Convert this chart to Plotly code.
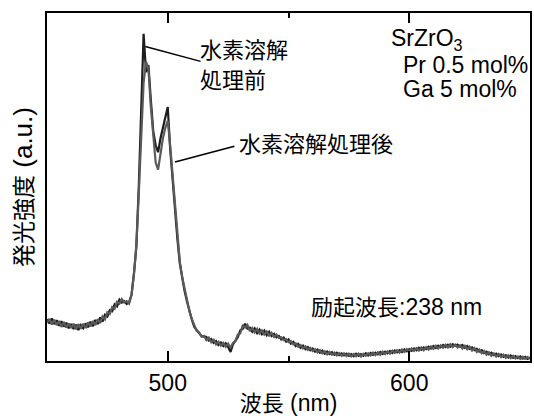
import plotly.graph_objects as go

# wavelength sampling (nm)
wavelength = list(range(450, 651))

# emission intensity (a.u.), before hydrogen-dissolution treatment
before_rise = [0.120, 0.108, 0.122, 0.106, 0.117, 0.101, 0.114, 0.099, 0.110, 0.094,
               0.106, 0.092, 0.104, 0.089, 0.103, 0.094, 0.108, 0.097, 0.113, 0.100,
               0.118, 0.106, 0.125, 0.113, 0.133, 0.128, 0.146, 0.143, 0.163, 0.157,
               0.176, 0.168, 0.172, 0.164, 0.169]
before_peak = [0.19, 0.25, 0.33, 0.50, 0.72, 0.94, 0.83, 0.85, 0.75, 0.66,
               0.62, 0.60, 0.64, 0.67, 0.70, 0.73, 0.61, 0.52, 0.43, 0.35,
               0.28, 0.235, 0.20, 0.17, 0.14, 0.118, 0.098, 0.088, 0.080, 0.072, 0.070]
before_tail = [0.069, 0.059, 0.063, 0.052, 0.057, 0.046, 0.053, 0.043, 0.051, 0.040,
               0.026, 0.048, 0.060, 0.068, 0.088, 0.092, 0.107, 0.093, 0.096, 0.084,
               0.094, 0.080, 0.090, 0.077, 0.087, 0.074, 0.084, 0.072, 0.078, 0.068,
               0.072, 0.062, 0.067, 0.056, 0.062, 0.050, 0.055, 0.043, 0.049, 0.038,
               0.044, 0.034, 0.040, 0.031, 0.036, 0.027, 0.033, 0.024, 0.030, 0.021,
               0.027, 0.020, 0.025, 0.018, 0.024, 0.017, 0.022, 0.016, 0.021, 0.015,
               0.020, 0.014, 0.021, 0.015, 0.020, 0.015, 0.022, 0.016, 0.023, 0.018,
               0.024, 0.019, 0.026, 0.020, 0.027, 0.022, 0.029, 0.023, 0.030, 0.025,
               0.031, 0.026, 0.033, 0.028, 0.034, 0.029, 0.036, 0.031, 0.038, 0.032,
               0.039, 0.034, 0.041, 0.036, 0.043, 0.037, 0.044, 0.039, 0.046, 0.040,
               0.047, 0.041, 0.048, 0.043, 0.047, 0.041, 0.046, 0.038, 0.043, 0.035,
               0.039, 0.031, 0.035, 0.027, 0.031, 0.023, 0.027, 0.019, 0.024, 0.017,
               0.021, 0.014, 0.019, 0.012, 0.017, 0.010, 0.016, 0.009, 0.014, 0.008,
               0.013, 0.007, 0.012, 0.006, 0.010]

# emission intensity (a.u.), after hydrogen-dissolution treatment
after_rise = [0.110, 0.121, 0.105, 0.119, 0.103, 0.115, 0.098, 0.112, 0.096, 0.108,
              0.095, 0.107, 0.091, 0.106, 0.093, 0.107, 0.095, 0.111, 0.099, 0.115,
              0.103, 0.120, 0.109, 0.128, 0.120, 0.140, 0.135, 0.155, 0.150, 0.170,
              0.165, 0.178, 0.168, 0.172, 0.165]
after_peak = [0.19, 0.25, 0.33, 0.48, 0.66, 0.80, 0.86, 0.84, 0.73, 0.64,
              0.57, 0.55, 0.60, 0.64, 0.67, 0.69, 0.62, 0.53, 0.44, 0.355,
              0.285, 0.24, 0.205, 0.172, 0.142, 0.120, 0.100, 0.086, 0.082, 0.070, 0.072]
after_tail = [0.060, 0.067, 0.054, 0.061, 0.048, 0.055, 0.044, 0.052, 0.041, 0.050,
              0.038, 0.052, 0.057, 0.076, 0.079, 0.101, 0.096, 0.104, 0.086, 0.095,
              0.082, 0.092, 0.079, 0.088, 0.076, 0.085, 0.073, 0.081, 0.069, 0.076,
              0.066, 0.068, 0.060, 0.063, 0.054, 0.057, 0.048, 0.051, 0.041, 0.046,
              0.036, 0.042, 0.032, 0.038, 0.029, 0.034, 0.025, 0.031, 0.022, 0.028,
              0.019, 0.026, 0.018, 0.024, 0.016, 0.023, 0.015, 0.022, 0.014, 0.021,
              0.013, 0.020, 0.014, 0.021, 0.013, 0.021, 0.015, 0.022, 0.016, 0.024,
              0.017, 0.025, 0.018, 0.027, 0.020, 0.028, 0.021, 0.030, 0.023, 0.031,
              0.024, 0.033, 0.026, 0.034, 0.027, 0.036, 0.029, 0.037, 0.030, 0.039,
              0.031, 0.040, 0.033, 0.042, 0.035, 0.044, 0.036, 0.045, 0.038, 0.047,
              0.039, 0.048, 0.040, 0.047, 0.039, 0.045, 0.036, 0.044, 0.034, 0.041,
              0.030, 0.037, 0.026, 0.033, 0.022, 0.029, 0.018, 0.025, 0.015, 0.022,
              0.013, 0.020, 0.011, 0.018, 0.009, 0.016, 0.008, 0.015, 0.007, 0.013,
              0.006, 0.012, 0.006, 0.011, 0.006]

before = before_rise + before_peak + before_tail
after = after_rise + after_peak + after_tail

x_range = [450, 650]
y_range = [0, 1]
x_major_ticks = [500, 600]
x_tick_labels = ["500", "600"]
x_minor_step = 50

FONT = "Liberation Sans, Arial, Noto Sans CJK JP, sans-serif"
LAT = 23   # latin text size
CJK = 22   # kanji size


def cjk(s, size=CJK):
    return f'<span style="font-size:{size}px">{s}</span>'


fig = go.Figure()
fig.add_trace(go.Scatter(x=wavelength, y=before, mode="lines",
                         line=dict(color="#1c1c1c", width=2.2), name="水素溶解処理前",
                         hoverinfo="skip"))
fig.add_trace(go.Scatter(x=wavelength, y=after, mode="lines",
                         line=dict(color="#5a5a5a", width=2.2), name="水素溶解処理後",
                         hoverinfo="skip"))

fig.update_layout(
    width=534, height=416,
    margin=dict(l=47, r=2, t=13, b=54),
    paper_bgcolor="white", plot_bgcolor="white",
    showlegend=False,
    font=dict(family=FONT, size=LAT, color="black"),
    xaxis=dict(
        range=x_range, tickmode="array", tickvals=x_major_ticks, ticktext=x_tick_labels,
        ticks="inside", ticklen=10, tickwidth=1.5, tickcolor="black",
        minor=dict(tick0=x_range[0], dtick=x_minor_step, ticks="inside", ticklen=5,
                   tickwidth=1.5, tickcolor="black", showgrid=False),
        showline=True, linecolor="black", linewidth=2, mirror="ticks",
        showgrid=False, zeroline=False,
        tickfont=dict(size=LAT),
        title=dict(text=cjk("波長") + " (nm)", font=dict(size=LAT), standoff=2),
    ),
    yaxis=dict(
        range=y_range, showticklabels=False, ticks="",
        showline=True, linecolor="black", linewidth=2, mirror=True,
        showgrid=False, zeroline=False,
        title=dict(text=cjk("発光強度", 23) + " (a.u.)", font=dict(size=26), standoff=5),
    ),
)

# pointer lines
fig.add_shape(type="line", x0=490.7, y0=0.904, x1=513.6, y1=0.861,
              line=dict(color="black", width=1.5))
fig.add_shape(type="line", x0=503.0, y0=0.572, x1=527.6, y1=0.617,
              line=dict(color="black", width=1.5))

ann = dict(showarrow=False, xanchor="left", yanchor="middle", align="left",
           font=dict(size=LAT, color="black"))
fig.add_annotation(x=512.6, y=0.849, text=cjk("水素溶解<br>処理前"), **ann)
fig.add_annotation(x=528.6, y=0.622, text=cjk("水素溶解処理後"), **ann)
fig.add_annotation(x=591.8, y=0.923, text="SrZrO<sub>3</sub>", **ann)
fig.add_annotation(x=596.5, y=0.852, text="Pr 0.5 mol%", **ann)
fig.add_annotation(x=596.5, y=0.783, text="Ga 5 mol%", **ann)
fig.add_annotation(x=558.5, y=0.155, text=cjk("励起波長") + ":238 nm", **ann)

fig.write_html("out.html", config={"displayModeBar": False},
               post_script="document.body.style.margin='0';document.body.style.overflow='hidden';")
